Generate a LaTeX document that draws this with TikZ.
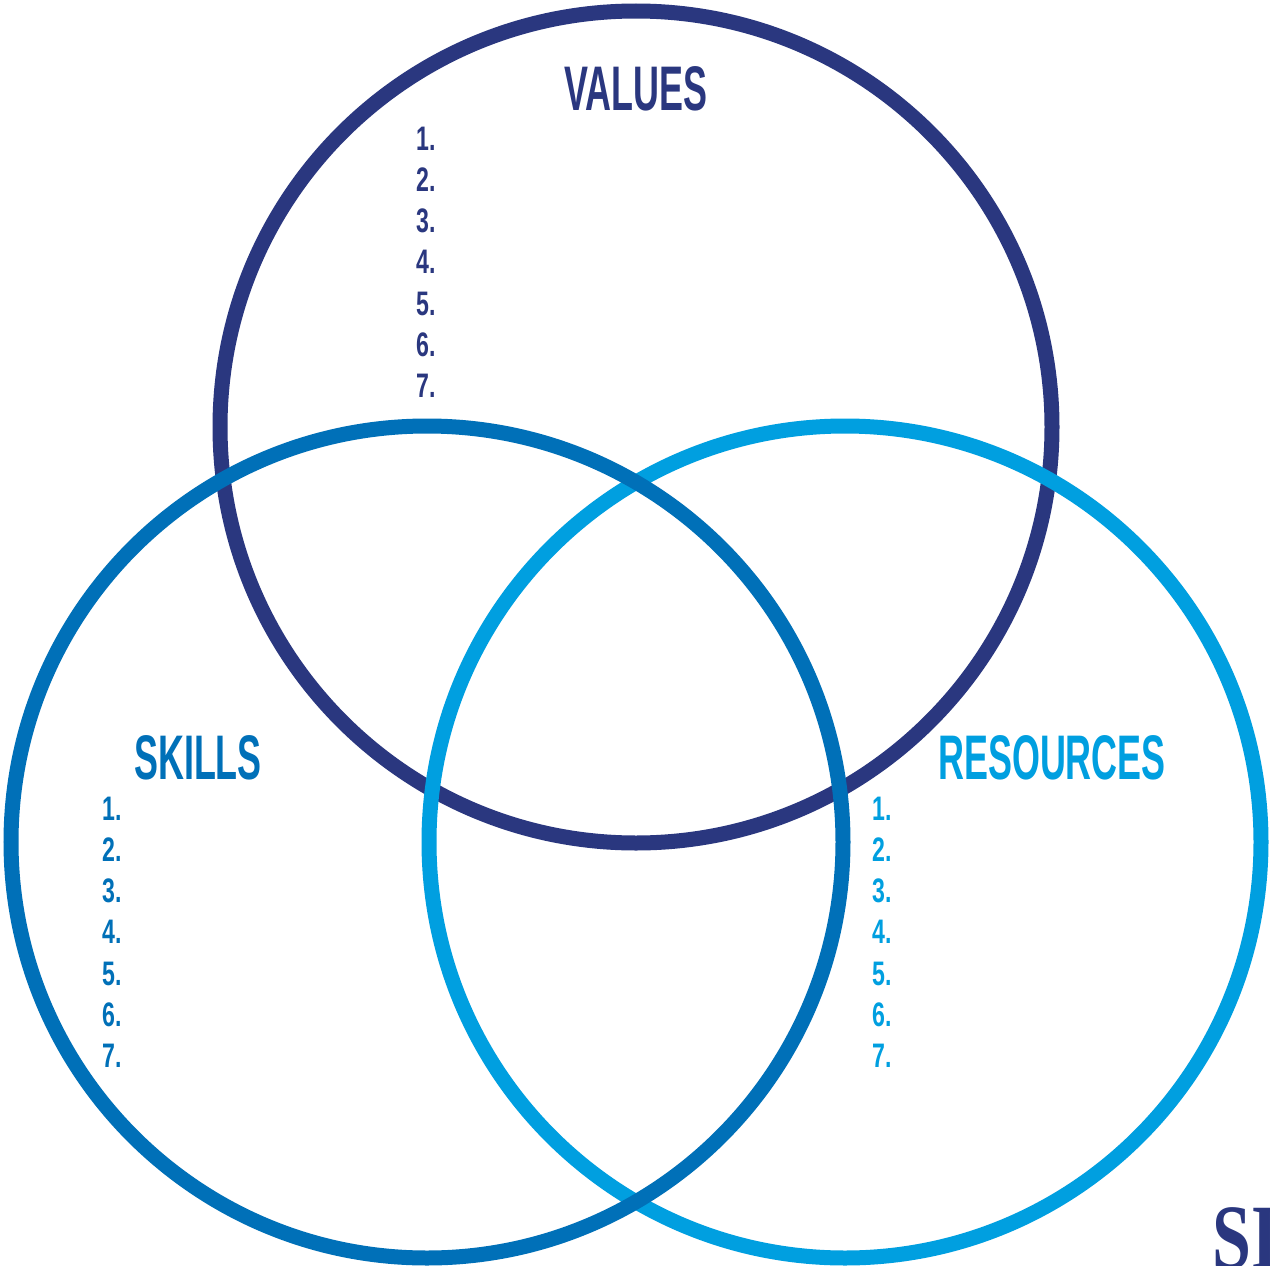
\documentclass[tikz,border=0pt]{standalone}
\usepackage{fontspec}
\newfontfamily\dinfont[FakeStretch=0.57]{Liberation Sans}
\newfontfamily\numfont[FakeStretch=0.68]{Liberation Sans}
\newfontfamily\logofont[FakeStretch=0.76]{Liberation Serif}
\definecolor{navy}{HTML}{2A377F}
\definecolor{midblue}{HTML}{0070B8}
\definecolor{lightblue}{HTML}{009FE0}
\begin{document}
\begin{tikzpicture}[x=1pt,y=-1pt,
  ring/.style={line width=15pt},
  title/.style={inner sep=0pt, anchor=base, font=\dinfont\bfseries\fontsize{63}{63}\selectfont},
  num/.style={inner sep=0pt, anchor=base west, font=\numfont\bfseries\fontsize{34}{34}\selectfont}]
\useasboundingbox (0,0) rectangle (1270,1266);
\clip (0,0) rectangle (1270,1266);
\fill[white] (0,0) rectangle (1270,1266);
\coordinate (cv) at (636,427);
\coordinate (cs) at (427,842);
\coordinate (cr) at (845,842);
\draw[ring, navy] (cv) circle[radius=416];
\draw[ring, lightblue] (cr) circle[radius=416];
\draw[ring, midblue] (cs) circle[radius=416];
\node[title, text=navy] (tv) at (636,110) {VALUES};
\node[title, text=midblue] (ts) at (198,779) {SKILLS};
\node[title, text=lightblue] (tr) at (1052,779) {RESOURCES};
\foreach \i in {1,...,7} {
  \node[num, text=navy] (v\i) at (416,{150+(\i-1)*41.3}) {\i.};
  \node[num, text=midblue] (s\i) at (102,{820+(\i-1)*41.3}) {\i.};
  \node[num, text=lightblue] (r\i) at (872,{820+(\i-1)*41.3}) {\i.};
}
\node[inner sep=0pt, anchor=base west, text=navy, font=\logofont\bfseries\fontsize{92}{92}\selectfont] (logo) at (1212,1268) {SI};
\end{tikzpicture}
\end{document}
